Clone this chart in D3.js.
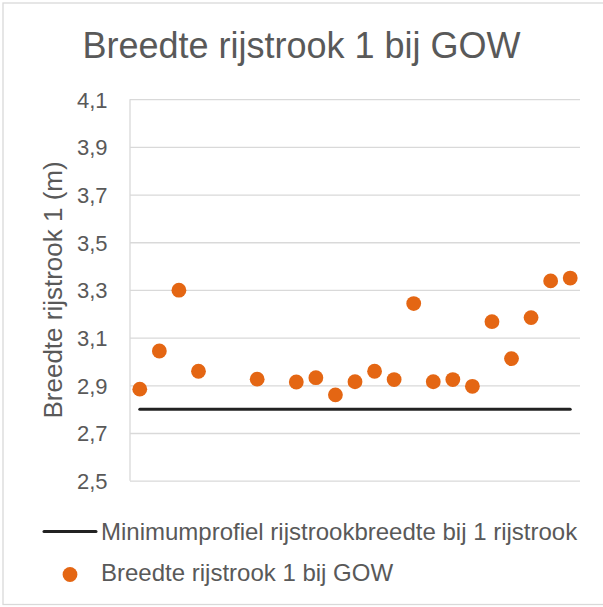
<!DOCTYPE html>
<html>
<head>
<meta charset="utf-8">
<script src="https://cdn.jsdelivr.net/npm/d3@7"></script>
<style>
  body { margin: 0; background: #fff; }
  text { font-family: "Liberation Sans", Arial, sans-serif; fill: #595959; }
</style>
</head>
<body>
<div id="chart"></div>
<script>
// categorieen (meetpunten) en waarden
var categories = d3.range(1, 24);
var gowValues = [2.884, 3.044, 3.299, 2.959, null, null, 2.926, null, 2.914, 2.932, 2.86,
                 2.915, 2.959, 2.924, 3.243, 2.915, 2.924, 2.896, 3.167, 3.012, 3.184, 3.338, 3.35];
var minValues = categories.map(function () { return 2.8; });
var yTicks = [2.5, 2.7, 2.9, 3.1, 3.3, 3.5, 3.7, 3.9, 4.1];

var W = 603, H = 607;
var margin = { top: 99.2, right: 23, bottom: 126.3, left: 130 },
    width = W - margin.left - margin.right,
    height = H - margin.top - margin.bottom;

var svg = d3.select("#chart").append("svg")
    .attr("width", W)
    .attr("height", H);

// rand van de grafiek
svg.append("rect")
    .attr("x", 3).attr("y", 3)
    .attr("width", W + 10).attr("height", H - 5.5)
    .attr("fill", "none")
    .attr("stroke", "#d9d9d9")
    .attr("stroke-width", 1.3);

// titel
svg.append("text")
    .attr("x", W / 2)
    .attr("y", 58)
    .attr("text-anchor", "middle")
    .style("font-size", "36px")
    .text("Breedte rijstrook 1 bij GOW");

var g = svg.append("g")
    .attr("transform", "translate(" + margin.left + "," + margin.top + ")");

var x = d3.scaleBand().domain(categories).range([0, width]);
var y = d3.scaleLinear().domain([2.5, 4.1]).range([height, 0]);

// gridlijnen + labels via de y-as
var yAxis = g.append("g")
    .call(d3.axisLeft(y).tickValues(yTicks).tickSize(-width).tickPadding(22.5)
        .tickFormat(function (d) { return d3.format(".1f")(d).replace(".", ","); }));
yAxis.select(".domain").remove();
yAxis.selectAll(".tick line").attr("stroke", "#d9d9d9").attr("stroke-width", 1.3);
yAxis.selectAll(".tick text")
    .attr("fill", "#595959")
    .attr("dy", "0.36em")
    .style("font-size", "22px")
    .style("font-family", "Liberation Sans, Arial, sans-serif");

// linker aslijn
g.append("line")
    .attr("x1", 0).attr("x2", 0)
    .attr("y1", 0).attr("y2", height)
    .attr("stroke", "#d9d9d9").attr("stroke-width", 1.3);

// y-as titel
svg.append("text")
    .attr("transform", "translate(62," + (margin.top + height / 2) + ") rotate(-90)")
    .attr("text-anchor", "middle")
    .style("font-size", "26px")
    .text("Breedte rijstrook 1 (m)");

// minimumprofiel lijn
var line = d3.line()
    .x(function (d, i) { return x(categories[i]) + x.bandwidth() / 2; })
    .y(function (d) { return y(d); });

g.append("path")
    .datum(minValues)
    .attr("d", line)
    .attr("fill", "none")
    .attr("stroke", "#222")
    .attr("stroke-width", 3)
    .attr("stroke-linecap", "round");

// punten
var pts = categories.map(function (c, i) { return { c: c, v: gowValues[i] }; })
    .filter(function (d) { return d.v !== null; });

g.selectAll(".dot")
    .data(pts)
    .enter().append("circle")
    .attr("class", "dot")
    .attr("cx", function (d) { return x(d.c) + x.bandwidth() / 2; })
    .attr("cy", function (d) { return y(d.v); })
    .attr("r", 7.4)
    .attr("fill", "#e46613");

// legenda
var legend = svg.append("g");
legend.append("line")
    .attr("x1", 44).attr("x2", 96)
    .attr("y1", 531.5).attr("y2", 531.5)
    .attr("stroke", "#222").attr("stroke-width", 3).attr("stroke-linecap", "round");
legend.append("text")
    .attr("x", 101).attr("y", 540)
    .style("font-size", "24px")
    .text("Minimumprofiel rijstrookbreedte bij 1 rijstrook");
legend.append("circle")
    .attr("cx", 70).attr("cy", 574.5).attr("r", 7.4)
    .attr("fill", "#e46613");
legend.append("text")
    .attr("x", 101).attr("y", 581)
    .style("font-size", "24px")
    .text("Breedte rijstrook 1 bij GOW");
</script>
</body>
</html>
